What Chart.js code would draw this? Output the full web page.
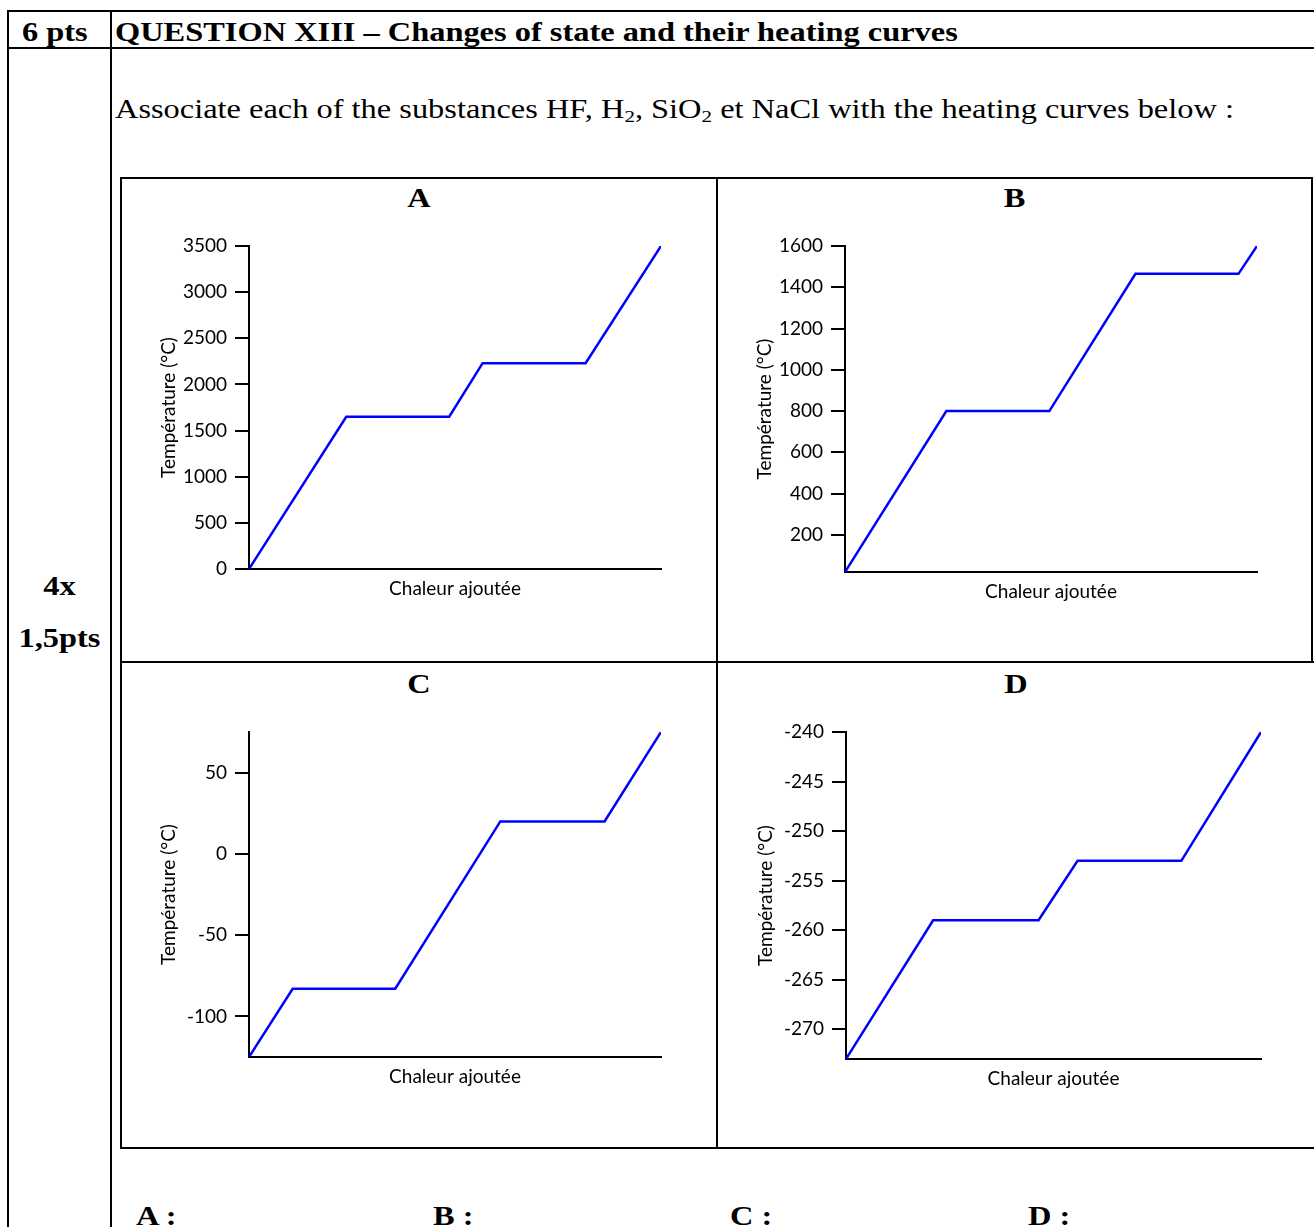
<!DOCTYPE html>
<html>
<head>
<meta charset="utf-8">
<script src="https://cdn.jsdelivr.net/npm/chart.js@4.4.1/dist/chart.umd.min.js"></script>
<style>
  html, body { margin: 0; padding: 0; background: #fff; }
  body { width: 1314px; height: 1227px; overflow: hidden; position: relative; font-family: "Liberation Serif", "Times New Roman", serif; color: #000; }
  .ln { position: absolute; background: #000; }
  .tx { position: absolute; font-size: 27px; line-height: 30px; white-space: nowrap; transform: scaleX(1.2); transform-origin: left center; }
  .c { transform-origin: center center; }
  .b { font-weight: bold; }
  canvas { position: absolute; }
  sub { font-size: 0.65em; vertical-align: -0.25em; line-height: 0; }
</style>
</head>
<body>

<!-- outer question table -->
<div class="ln" style="left:7px; top:10px; width:1307px; height:2px"></div>
<div class="ln" style="left:7px; top:47px; width:1307px; height:2px"></div>
<div class="ln" style="left:7px; top:10px; width:2px; height:1217px"></div>
<div class="ln" style="left:110px; top:10px; width:2px; height:1217px"></div>

<div class="tx b" style="left:22px; top:17px">6 pts</div>
<div class="tx b" style="left:115px; top:17px">QUESTION XIII – Changes of state and their heating curves</div>
<div class="tx" style="left:115px; top:94px">Associate each of the substances HF, H<sub>2</sub>, SiO<sub>2</sub> et NaCl with the heating curves below :</div>
<div class="tx b c" style="left:9px; width:101px; text-align:center; top:571px">4x</div>
<div class="tx b c" style="left:9px; width:101px; text-align:center; top:623px">1,5pts</div>

<!-- grid of the four curves -->
<div class="ln" style="left:120px; top:177px; width:1193px; height:2px"></div>
<div class="ln" style="left:120px; top:661px; width:1194px; height:2px"></div>
<div class="ln" style="left:120px; top:1147px; width:1194px; height:2px"></div>
<div class="ln" style="left:120px; top:177px; width:2px; height:972px"></div>
<div class="ln" style="left:716px; top:177px; width:2px; height:972px"></div>
<div class="ln" style="left:1311px; top:177px; width:2px; height:486px"></div>

<div class="tx b c" style="left:121px; width:596px; text-align:center; top:183px">A</div>
<div class="tx b c" style="left:717px; width:595px; text-align:center; top:183px">B</div>
<div class="tx b c" style="left:121px; width:596px; text-align:center; top:669px">C</div>
<div class="tx b c" style="left:717px; width:598px; text-align:center; top:669px">D</div>

<canvas id="chartA" width="592" height="480" style="left:123px; top:180px"></canvas>
<canvas id="chartB" width="591" height="480" style="left:719px; top:180px"></canvas>
<canvas id="chartC" width="592" height="482" style="left:123px; top:664px"></canvas>
<canvas id="chartD" width="595" height="482" style="left:719px; top:664px"></canvas>

<div class="tx b" style="left:136px; top:1201px">A :</div>
<div class="tx b" style="left:433px; top:1201px">B :</div>
<div class="tx b" style="left:730px; top:1201px">C :</div>
<div class="tx b" style="left:1028px; top:1201px">D :</div>

<script>
// heat added (arbitrary units, 0-100) and temperature (°C) at each corner of the curve
const heatA = [0, 23.6, 48.6, 56.7, 81.7, 100];
const tempA = [0, 1650, 1650, 2230, 2230, 3500];

const heatB = [0, 24.6, 49.6, 70.5, 95.5, 100];
const tempB = [20, 800, 800, 1465, 1465, 1600];

const heatC = [0, 10.6, 35.5, 61.0, 86.3, 100];
const tempC = [-125, -83, -83, 20, 20, 75];

const heatD = [0, 21.0, 46.4, 55.8, 80.8, 100];
const tempD = [-273, -259, -259, -253, -253, -240];

// y axis ranges [min, max]
const rangeA = [0, 3500];
const rangeB = [20, 1600];
const rangeC = [-125, 75];
const rangeD = [-273, -240];

// y tick labels
const ticksA = [0, 500, 1000, 1500, 2000, 2500, 3000, 3500];
const ticksB = [200, 400, 600, 800, 1000, 1200, 1400, 1600];
const ticksC = [-100, -50, 0, 50];
const ticksD = [-270, -265, -260, -255, -250, -245, -240];

const yTitle = 'Température (°C)';
const xTitle = 'Chaleur ajoutée';

const axisFont = { family: 'Lato', size: 19 };

function heatingCurve(id, heat, temp, range, yTicks, box, area) {
  const padLeft = 20;
  const xHeight = 40;
  new Chart(document.getElementById(id), {
    type: 'line',
    data: {
      datasets: [{
        data: heat.map((h, i) => ({ x: h, y: temp[i] })),
        borderColor: '#0000ff',
        borderWidth: 2.5,
        pointRadius: 0,
        tension: 0,
        fill: false
      }]
    },
    options: {
      responsive: false,
      animation: false,
      layout: {
        padding: {
          left: padLeft,
          top: area.t - box.y,
          right: box.x + box.w - area.r,
          bottom: box.y + box.h - area.b - xHeight
        }
      },
      plugins: { legend: { display: false }, tooltip: { enabled: false } },
      scales: {
        x: {
          type: 'linear', min: 0, max: 100,
          ticks: { display: false },
          grid: { display: false },
          border: { display: true, color: '#000', width: 2 },
          title: { display: true, text: xTitle, color: '#000', font: axisFont,
                   padding: { top: 0, bottom: xHeight - 19.5 - 11.4 } },
          afterFit: s => { s.height = xHeight; }
        },
        y: {
          min: range[0], max: range[1], bounds: 'data',
          ticks: { color: '#000', font: axisFont, padding: 8, callback: v => String(v) },
          afterBuildTicks: s => { s.ticks = yTicks.map(v => ({ value: v })); },
          grid: { drawOnChartArea: false, drawTicks: true, tickLength: 14, color: '#000', lineWidth: 2 },
          border: { display: true, color: '#000', width: 2 },
          title: { display: true, text: yTitle, color: '#000', font: axisFont,
                   padding: { top: area.l - 80 - box.x - padLeft - 11.4, bottom: 0 } },
          afterFit: s => { s.width = area.l - box.x - padLeft; }
        }
      }
    }
  });
}

heatingCurve('chartA', heatA, tempA, rangeA, ticksA,
  { x: 123, y: 180, w: 592, h: 480 }, { l: 249, t: 246, r: 661, b: 569 });
heatingCurve('chartB', heatB, tempB, rangeB, ticksB,
  { x: 719, y: 180, w: 591, h: 480 }, { l: 845, t: 246, r: 1257, b: 572 });
heatingCurve('chartC', heatC, tempC, rangeC, ticksC,
  { x: 123, y: 664, w: 592, h: 482 }, { l: 249, t: 732, r: 661, b: 1057 });
heatingCurve('chartD', heatD, tempD, rangeD, ticksD,
  { x: 719, y: 664, w: 595, h: 482 }, { l: 846, t: 732, r: 1261, b: 1059 });
</script>
</body>
</html>
